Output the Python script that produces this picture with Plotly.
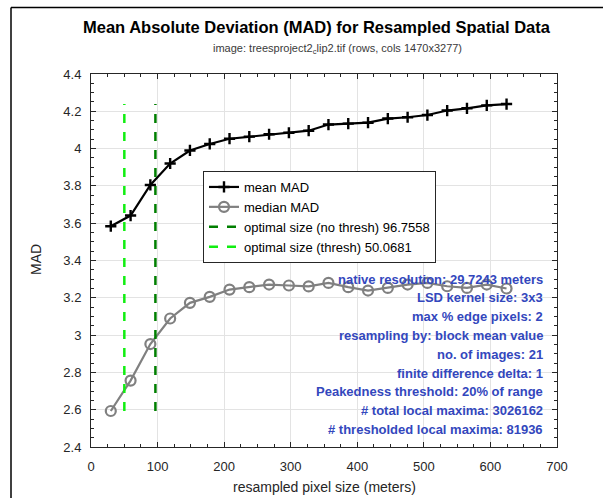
import plotly.graph_objects as go

# ---- data ----
native_res = 29.7243
pixel_sizes = [29.7243, 59.4486, 89.1729, 118.8972, 148.6215, 178.3458, 208.0701,
               237.7944, 267.5187, 297.2430, 326.9673, 356.6916, 386.4159, 416.1402,
               445.8645, 475.5888, 505.3131, 535.0374, 564.7617, 594.4860, 624.2103]
mean_mad = [3.584, 3.641, 3.805, 3.920, 3.990, 4.025, 4.053, 4.064, 4.077, 4.085, 4.096,
            4.129, 4.134, 4.139, 4.161, 4.168, 4.180, 4.204, 4.216, 4.232, 4.239]
median_mad = [2.593, 2.756, 2.952, 3.089, 3.173, 3.205, 3.244, 3.257, 3.271, 3.266, 3.261,
              3.280, 3.257, 3.239, 3.253, 3.271, 3.280, 3.262, 3.253, 3.271, 3.250]
opt_nothresh = 96.7558
opt_thresh = 50.0681

series_names = ["mean MAD", "median MAD",
                "optimal size (no thresh) 96.7558", "optimal size (thresh) 50.0681"]
info_lines = [
    "native resolution: 29.7243 meters",
    "LSD kernel size: 3x3",
    "max % edge pixels: 2",
    "resampling by: block mean value",
    "no. of images: 21",
    "finite difference delta: 1",
    "Peakedness threshold: 20% of range",
    "# total local maxima: 3026162",
    "# thresholded local maxima: 81936",
]
title_text = "Mean Absolute Deviation (MAD) for Resampled Spatial Data"
subtitle_text = "image: treesproject2<sub>c</sub>lip2.tif (rows, cols 1470x3277)"
x_label = "resampled pixel size (meters)"
y_label = "MAD"

FONT = "Liberation Sans, Arial, Helvetica, sans-serif"
AX = "#262626"

ymin_line = min(median_mad)
ymax_line = max(mean_mad)

fig = go.Figure()
fig.add_trace(go.Scatter(
    x=pixel_sizes, y=mean_mad, mode="lines+markers", name=series_names[0],
    line=dict(color="black", width=2.2),
    marker=dict(symbol="cross-thin", size=8, line=dict(color="black", width=2.4)),
))
fig.add_trace(go.Scatter(
    x=pixel_sizes, y=median_mad, mode="lines+markers", name=series_names[1],
    line=dict(color="#808080", width=2.2),
    marker=dict(symbol="circle-open", size=10, color="#808080", line=dict(color="#808080", width=2.2)),
))
fig.add_trace(go.Scatter(
    x=[opt_nothresh, opt_nothresh], y=[ymin_line, ymax_line], mode="lines",
    name=series_names[2], line=dict(color="#007f00", width=2.5, dash="dash"),
))
fig.add_trace(go.Scatter(
    x=[opt_thresh, opt_thresh], y=[ymin_line, ymax_line], mode="lines",
    name=series_names[3], line=dict(color="#11ee11", width=2.5, dash="dash"),
))

L, R, T, B = 91, 46, 74, 51
W, H = 603, 498
pw, ph = W - L - R, H - T - B

def px_to_paper_x(px):
    return (px - L) / pw

def px_to_paper_y(py):
    return 1 - (py - T) / ph

annotations = []
for i, txt in enumerate(info_lines):
    annotations.append(dict(
        x=px_to_paper_x(545), y=px_to_paper_y(279 + i * 18.8), xref="paper", yref="paper",
        text="<b>" + txt + "</b>", showarrow=False, xanchor="right", yanchor="middle",
        font=dict(family=FONT, size=13, color="#3347bd"),
    ))
annotations.append(dict(
    x=px_to_paper_x(317), y=px_to_paper_y(27), xref="paper", yref="paper",
    text="<b>" + title_text + "</b>", showarrow=False, xanchor="center", yanchor="middle",
    font=dict(family=FONT, size=16.5, color="black"),
))
annotations.append(dict(
    x=px_to_paper_x(337), y=px_to_paper_y(49), xref="paper", yref="paper",
    text=subtitle_text, showarrow=False, xanchor="center", yanchor="middle",
    font=dict(family=FONT, size=11, color="#3a3a3a"),
))
annotations.append(dict(
    x=px_to_paper_x(324), y=px_to_paper_y(487), xref="paper", yref="paper",
    text=x_label, showarrow=False, xanchor="center", yanchor="middle",
    font=dict(family=FONT, size=14, color=AX),
))
annotations.append(dict(
    x=px_to_paper_x(36), y=px_to_paper_y(260), xref="paper", yref="paper",
    text=y_label, showarrow=False, xanchor="center", yanchor="middle", textangle=-90,
    font=dict(family=FONT, size=14, color=AX),
))

axis_common = dict(
    showline=True, linecolor=AX, linewidth=1, mirror="allticks",
    ticks="inside", ticklen=5, tickcolor=AX, tickwidth=1,
    showgrid=True, gridcolor="#e3e3e3", gridwidth=1, zeroline=False,
    tickfont=dict(family=FONT, size=13, color=AX),
)

fig.update_layout(
    width=W, height=H, margin=dict(l=L, r=R, t=T, b=B),
    paper_bgcolor="white", plot_bgcolor="white",
    showlegend=True,
    legend=dict(x=px_to_paper_x(203), y=px_to_paper_y(171), xanchor="left", yanchor="top",
                bgcolor="white", bordercolor=AX, borderwidth=1,
                font=dict(family=FONT, size=13, color="black"),
                tracegroupgap=0),
    xaxis=dict(range=[0, 700], dtick=100, tick0=0, ticklabelstandoff=7,
               minor=dict(ticks="inside", ticklen=3, dtick=25, tickcolor=AX, showgrid=False),
               **axis_common),
    yaxis=dict(range=[2.4, 4.4], dtick=0.2, tick0=2.4, ticklabelstandoff=6,
               minor=dict(ticks="inside", ticklen=3, dtick=0.05, tickcolor=AX, showgrid=False),
               **axis_common),
    annotations=annotations,
    shapes=[
        dict(type="line", xref="paper", yref="paper",
             x0=px_to_paper_x(11), x1=px_to_paper_x(11),
             y0=px_to_paper_y(510), y1=px_to_paper_y(7.5),
             line=dict(color="black", width=1.5)),
        dict(type="line", xref="paper", yref="paper",
             x0=px_to_paper_x(11), x1=px_to_paper_x(620),
             y0=px_to_paper_y(7.5), y1=px_to_paper_y(7.5),
             line=dict(color="black", width=1.5)),
    ],
)

fig.write_html("out.html", config={"displayModeBar": False},
               post_script="document.body.style.margin='0';document.body.style.padding='0';")
